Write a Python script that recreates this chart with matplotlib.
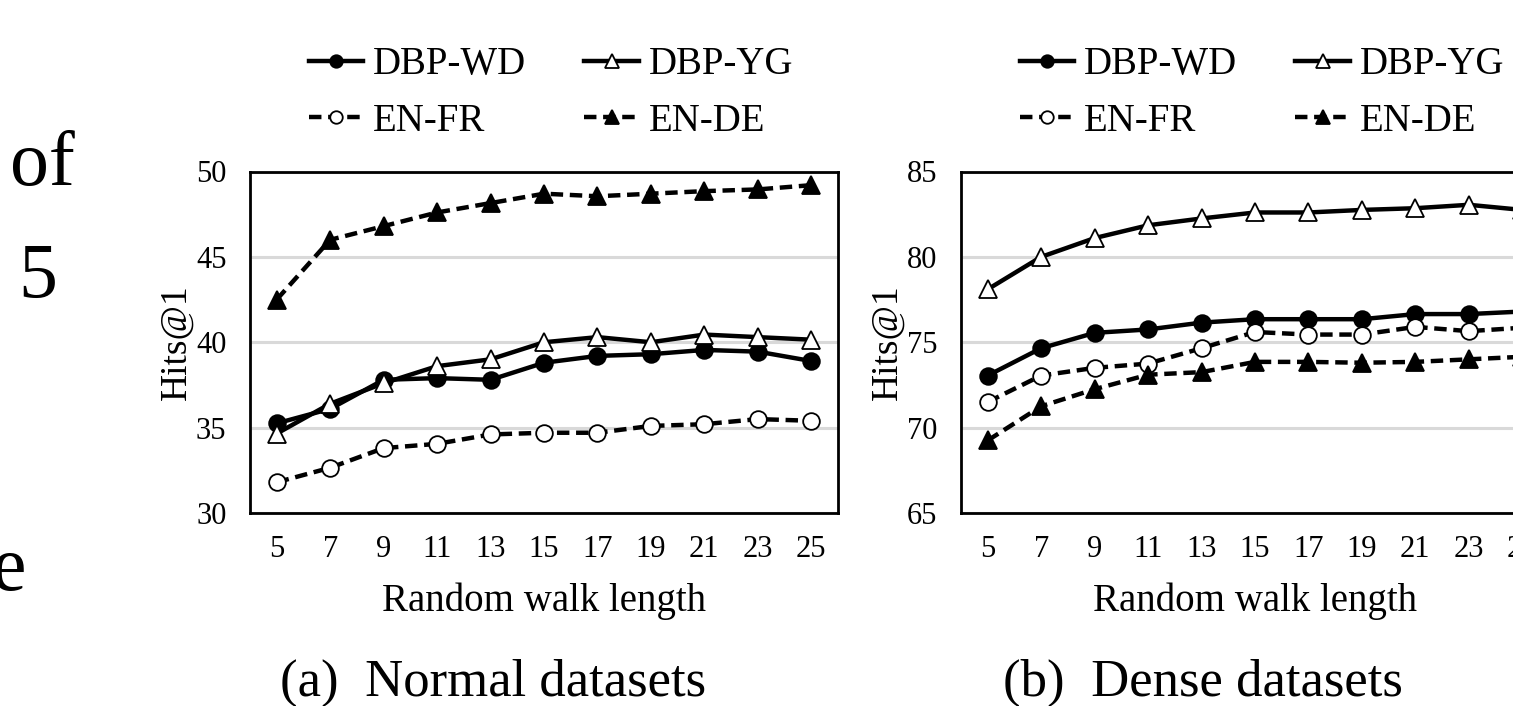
import matplotlib
matplotlib.use("Agg")
import matplotlib.pyplot as plt

plt.rcParams['font.family'] = ['Liberation Serif', 'DejaVu Serif']

# random walk lengths on the x axis
lengths = [5, 7, 9, 11, 13, 15, 17, 19, 21, 23, 25]

# (a) Normal datasets, Hits@1
normal_wd = [35.25, 36.1, 37.8, 37.9, 37.8, 38.8, 39.2, 39.3, 39.55, 39.45, 38.9]
normal_yg = [34.65, 36.4, 37.6, 38.6, 39.0, 40.0, 40.3, 40.0, 40.45, 40.3, 40.15]
normal_fr = [31.8, 32.65, 33.8, 34.05, 34.6, 34.7, 34.7, 35.1, 35.2, 35.5, 35.4]
normal_de = [42.5, 46.0, 46.8, 47.6, 48.15, 48.7, 48.55, 48.7, 48.85, 48.95, 49.2]

# (b) Dense datasets, Hits@1
dense_wd = [73.05, 74.65, 75.55, 75.75, 76.15, 76.35, 76.35, 76.35, 76.65, 76.65, 76.8]
dense_yg = [78.1, 80.0, 81.1, 81.85, 82.25, 82.6, 82.6, 82.75, 82.85, 83.05, 82.75]
dense_fr = [71.5, 73.05, 73.5, 73.75, 74.65, 75.6, 75.45, 75.45, 75.9, 75.65, 75.85]
dense_de = [69.25, 71.25, 72.25, 73.1, 73.25, 73.85, 73.85, 73.8, 73.85, 74.0, 74.15]

W, H = 1513, 706
fig = plt.figure(figsize=(W / 100, H / 100), dpi=100)


def px_axes(left, top, right, bottom):
    return fig.add_axes([left / W, 1 - bottom / H, (right - left) / W, (bottom - top) / H])


dash = (0, (2.8, 1.5))
styles = {
    'DBP-WD': dict(ls='-', marker='o', mfc='black', ms=12),
    'DBP-YG': dict(ls='-', marker='^', mfc='white', ms=13),
    'EN-FR': dict(ls=dash, marker='o', mfc='white', ms=12),
    'EN-DE': dict(ls=dash, marker='^', mfc='black', ms=13),
}


def draw(ax, wd, yg, fr, de, ylim, yticks):
    lines = {}
    for name, vals in [('DBP-WD', wd), ('DBP-YG', yg), ('EN-FR', fr), ('EN-DE', de)]:
        st = styles[name]
        lines[name], = ax.plot(lengths, vals, color='black', lw=3.2, ls=st['ls'],
                               marker=st['marker'], ms=st['ms'], mfc=st['mfc'],
                               mec='black', mew=1.3, label=name, zorder=3)
    ax.set_xlim(4, 26)
    ax.set_ylim(*ylim)
    ax.set_yticks(yticks)
    ax.set_xticks(lengths)
    ax.set_xticklabels([str(v) for v in lengths])
    ax.yaxis.grid(True, color='#d9d9d9', lw=2.2)
    ax.set_axisbelow(True)
    for sp in ax.spines.values():
        sp.set_linewidth(2)
        sp.set_color('black')
    ax.tick_params(axis='both', length=0, labelsize=22)
    ax.tick_params(axis='y', pad=17)
    ax.tick_params(axis='x', pad=16)
    ax.set_xlabel('Random walk length', fontsize=28, labelpad=13)
    ax.set_ylabel('Hits@1', fontsize=27, labelpad=2)
    order = ['DBP-WD', 'EN-FR', 'DBP-YG', 'EN-DE']
    return [lines[n] for n in order], order


legend_kw = dict(loc='center', ncol=2, frameon=False, fontsize=28, handlelength=1.4,
                 handletextpad=0.25, columnspacing=1.5, labelspacing=0.5,
                 markerscale=0.75, borderpad=0)

ax1 = px_axes(250, 171.5, 838, 513)
h, l = draw(ax1, normal_wd, normal_yg, normal_fr, normal_de, (30, 50), [30, 35, 40, 45, 50])
fig.legend(h, l, bbox_to_anchor=(551 / W, 1 - 93 / H), **legend_kw)

ax2 = px_axes(961, 171.5, 1549, 513)
h, l = draw(ax2, dense_wd, dense_yg, dense_fr, dense_de, (65, 85), [65, 70, 75, 80, 85])
fig.legend(h, l, bbox_to_anchor=(1262 / W, 1 - 93 / H), **legend_kw)

# sub captions
fig.text(493 / W, 1 - 683 / H, '(a)  Normal datasets', fontsize=38, ha='center', va='center')
fig.text(1203 / W, 1 - 683 / H, '(b)  Dense datasets', fontsize=38, ha='center', va='center')

# fragments of the neighbouring page text
fig.text(75 / W, 1 - 185 / H, 'of', fontsize=56, ha='right', va='baseline')
fig.text(57 / W, 1 - 297 / H, '5', fontsize=56, ha='right', va='baseline')
fig.text(26 / W, 1 - 590 / H, 'e', fontsize=56, ha='right', va='baseline')

fig.savefig('out.png', dpi=100)
